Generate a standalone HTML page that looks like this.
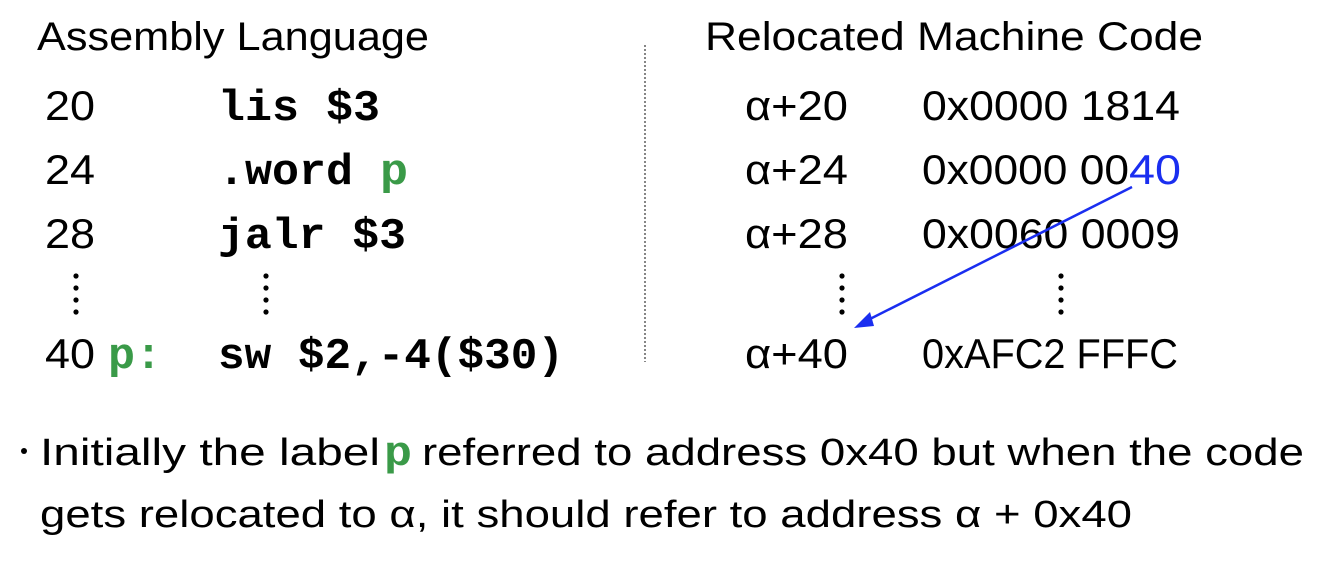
<!DOCTYPE html>
<html><head><meta charset="utf-8"><style>
html,body{margin:0;padding:0;background:#fff;width:1326px;height:566px;overflow:hidden}
svg{display:block}
.s{font-family:"Liberation Sans",sans-serif;fill:#000}
.m{font-family:"Liberation Mono",monospace;font-weight:bold;fill:#000}
.g{fill:#3a9a48}
</style></head><body>
<svg width="1326" height="566" viewBox="0 0 1326 566">
<text class="s" x="37" y="50" font-size="40" textLength="392" lengthAdjust="spacingAndGlyphs">Assembly Language</text>
<text class="s" x="705" y="50" font-size="40" textLength="498" lengthAdjust="spacingAndGlyphs">Relocated Machine Code</text>
<line x1="645" y1="45" x2="645" y2="362" stroke="#444" stroke-width="1.3" stroke-dasharray="2,2"/>

<g class="s" font-size="42">
<text x="45" y="120" textLength="50" lengthAdjust="spacingAndGlyphs">20</text>
<text x="45" y="184" textLength="50" lengthAdjust="spacingAndGlyphs">24</text>
<text x="45" y="248" textLength="50" lengthAdjust="spacingAndGlyphs">28</text>
<text x="45" y="368" textLength="50" lengthAdjust="spacingAndGlyphs">40</text>
</g>
<g class="m" font-size="44">
<text x="218" y="120" textLength="162" lengthAdjust="spacingAndGlyphs">lis $3</text>
<text x="218" y="184" textLength="135" lengthAdjust="spacingAndGlyphs">.word</text>
<text class="m g" x="380" y="184" textLength="28" lengthAdjust="spacingAndGlyphs">p</text>
<text x="218" y="248" textLength="188" lengthAdjust="spacingAndGlyphs">jalr $3</text>
<text class="m g" x="108" y="368" textLength="54" lengthAdjust="spacingAndGlyphs">p:</text>
<text x="218" y="368" textLength="346" lengthAdjust="spacingAndGlyphs">sw $2,-4($30)</text>
</g>
<g fill="#000">
<circle cx="76" cy="276" r="2.6"/><circle cx="76" cy="288" r="2.6"/><circle cx="76" cy="300" r="2.6"/><circle cx="76" cy="312" r="2.6"/>
<circle cx="266" cy="276" r="2.6"/><circle cx="266" cy="288" r="2.6"/><circle cx="266" cy="300" r="2.6"/><circle cx="266" cy="312" r="2.6"/>
<circle cx="842" cy="276" r="2.6"/><circle cx="842" cy="288" r="2.6"/><circle cx="842" cy="300" r="2.6"/><circle cx="842" cy="312" r="2.6"/>
<circle cx="1061" cy="276" r="2.6"/><circle cx="1061" cy="288" r="2.6"/><circle cx="1061" cy="300" r="2.6"/><circle cx="1061" cy="312" r="2.6"/>
</g>
<g class="s" font-size="42">
<text x="745" y="120" textLength="103" lengthAdjust="spacingAndGlyphs">α+20</text>
<text x="745" y="184" textLength="103" lengthAdjust="spacingAndGlyphs">α+24</text>
<text x="745" y="248" textLength="103" lengthAdjust="spacingAndGlyphs">α+28</text>
<text x="745" y="368" textLength="103" lengthAdjust="spacingAndGlyphs">α+40</text>
<text x="922" y="120" textLength="258" lengthAdjust="spacingAndGlyphs">0x0000 1814</text>
<text x="922" y="184" textLength="207" lengthAdjust="spacingAndGlyphs">0x0000 00</text>
<text x="1129" y="184" textLength="52" lengthAdjust="spacingAndGlyphs" fill="#1a2ef0">40</text>
<text x="922" y="248" textLength="258" lengthAdjust="spacingAndGlyphs">0x0060 0009</text>
<text x="922" y="368" textLength="256" lengthAdjust="spacingAndGlyphs">0xAFC2 FFFC</text>
</g>
<line x1="1132" y1="187" x2="866" y2="321" stroke="#1a2ef0" stroke-width="2.5"/>
<polygon points="854,328 870,312 874,326" fill="#1a2ef0"/>

<circle cx="24" cy="451" r="3" fill="#000"/>
<text class="s" x="40" y="465" font-size="38" textLength="340" lengthAdjust="spacingAndGlyphs">Initially the label</text>
<text class="m g" x="384" y="465" font-size="42" textLength="28" lengthAdjust="spacingAndGlyphs">p</text>
<text class="s" x="422" y="465" font-size="38" textLength="882" lengthAdjust="spacingAndGlyphs">referred to address 0x40 but when the code</text>
<text class="s" x="40" y="527" font-size="38" textLength="1092" lengthAdjust="spacingAndGlyphs">gets relocated to α, it should refer to address α + 0x40</text>
</svg>
</body></html>
